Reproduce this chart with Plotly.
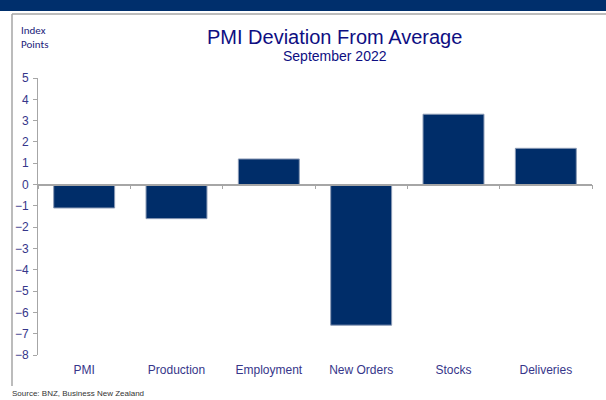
import plotly.graph_objects as go

categories = ["PMI", "Production", "Employment", "New Orders", "Stocks", "Deliveries"]
values = [-1.1, -1.6, 1.2, -6.6, 3.3, 1.7]
y_ticks = list(range(-8, 6))

y_min, y_max = -8, 5
W, H = 606, 400
ml, mr, mt, mb = 38, 14, 78, 45
PW, PH = W - ml - mr, H - mt - mb


def px_x(x):
    return (x - ml) / PW


def px_y(y):
    return 1 - (y - mt) / PH


fig = go.Figure()
fig.add_trace(go.Bar(
    x=categories, y=values,
    marker=dict(color="#002D69", line=dict(color="#8A9AB5", width=1)),
    xaxis="x", yaxis="y",
))
# invisible trace on xaxis2 to draw zero axis with boundary ticks
fig.add_trace(go.Bar(x=categories, y=[None] * len(categories), xaxis="x2", yaxis="y",
                     showlegend=False, hoverinfo="skip"))

zero_frac = (0 - y_min) / (y_max - y_min)
tick_col = "#36368A"

fig.update_layout(
    width=W, height=H,
    margin=dict(l=ml, r=mr, t=mt, b=mb),
    paper_bgcolor="white", plot_bgcolor="white",
    showlegend=False,
    bargap=0.34,
    font=dict(family="Liberation Sans, Arial, sans-serif", color=tick_col),
    xaxis=dict(
        showline=False, ticks="", showgrid=False, zeroline=False,
        tickfont=dict(size=12, color=tick_col),
        ticklabelstandoff=6,
    ),
    xaxis2=dict(
        overlaying="x", anchor="free", position=zero_frac,
        showline=True, linecolor="#A6A6A6", linewidth=1.5,
        ticks="outside", ticklen=4, tickcolor="#A6A6A6", tickson="boundaries",
        showticklabels=False, showgrid=False, zeroline=False,
        matches="x",
    ),
    yaxis=dict(
        range=[y_min, y_max], tickvals=y_ticks,
        showline=True, linecolor="#A6A6A6", linewidth=1,
        ticks="outside", ticklen=4, tickcolor="#A6A6A6",
        showgrid=False, zeroline=False,
        tickfont=dict(size=12, color=tick_col),
        ticklabelstandoff=2,
    ),
    shapes=[
        dict(type="rect", xref="paper", yref="paper", layer="below",
             x0=px_x(0), x1=px_x(W), y0=px_y(11), y1=px_y(0),
             fillcolor="#002F6C", line=dict(width=0)),
        dict(type="line", xref="paper", yref="paper", layer="below",
             x0=px_x(12), x1=px_x(W), y0=px_y(14), y1=px_y(14),
             line=dict(color="#A6A6A6", width=1.5)),
        dict(type="line", xref="paper", yref="paper", layer="below",
             x0=px_x(12), x1=px_x(12), y0=px_y(14), y1=px_y(386),
             line=dict(color="#A6A6A6", width=1.5)),
    ],
    annotations=[
        dict(text="PMI Deviation From Average", xref="paper", yref="paper",
             x=px_x(334), y=px_y(37), xanchor="center", yanchor="middle",
             showarrow=False, font=dict(size=20, color="#0E0E82")),
        dict(text="September 2022", xref="paper", yref="paper",
             x=px_x(335), y=px_y(56), xanchor="center", yanchor="middle",
             showarrow=False, font=dict(size=14, color="#0E0E82")),
        dict(text="Index<br>Points", xref="paper", yref="paper", align="left",
             x=px_x(19), y=px_y(37), xanchor="left", yanchor="middle",
             showarrow=False, font=dict(size=11, color="#22227A", family="Carlito, Noto Sans, sans-serif")),
        dict(text="Source: BNZ, Business New Zealand", xref="paper", yref="paper",
             x=px_x(10), y=px_y(393), xanchor="left", yanchor="middle",
             showarrow=False, font=dict(size=8, color="#333333")),
    ],
)

fig.write_html("out.html")
